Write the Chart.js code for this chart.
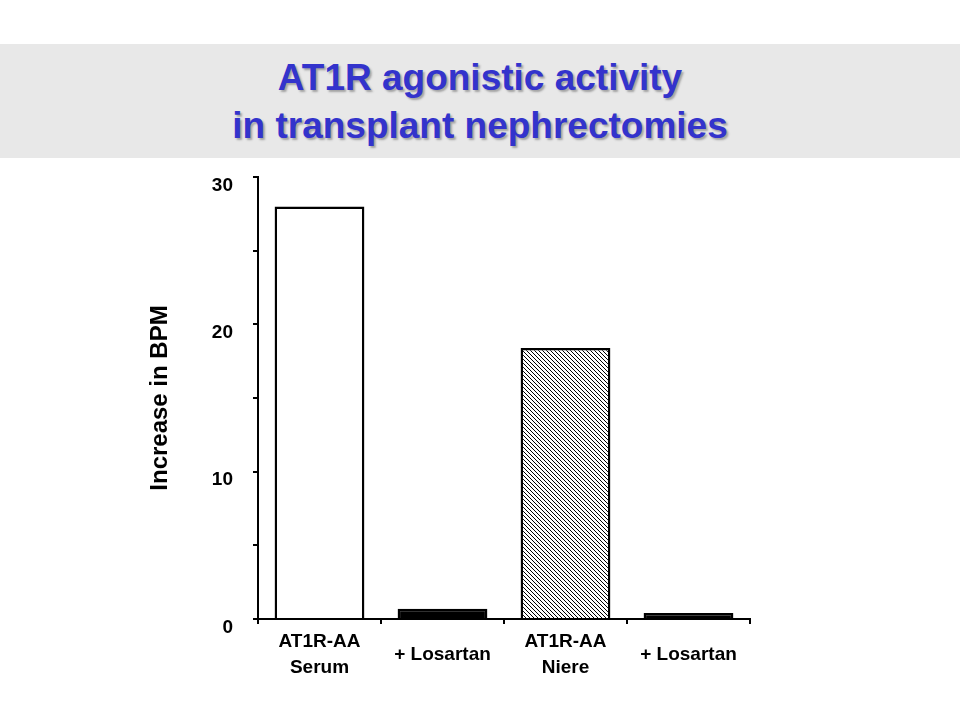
<!DOCTYPE html>
<html>
<head>
<meta charset="utf-8">
<title>AT1R agonistic activity</title>
<script src="https://cdn.jsdelivr.net/npm/chart.js@4.4.1/dist/chart.umd.min.js"></script>
<style>
    html, body {
        margin: 0;
        padding: 0;
        background: #ffffff;
        width: 960px;
        height: 720px;
        overflow: hidden;
    }
    #banner {
        position: absolute;
        left: 0;
        top: 44px;
        width: 960px;
        height: 114px;
        box-sizing: border-box;
        padding-top: 10px;
        background: #e8e8e8;
        text-align: center;
        font-family: "Liberation Sans", Arial, sans-serif;
        font-weight: bold;
        font-size: 37px;
        line-height: 48px;
        color: #3333cc;
        text-shadow: 2px 2px 2px rgba(80, 80, 80, 0.45);
    }
    #chart {
        position: absolute;
        left: 0;
        top: 0;
    }
</style>
</head>
<body>
<canvas id="chart" width="960" height="720"></canvas>
<div id="banner">AT1R agonistic activity<br>in transplant nephrectomies</div>
<script>
// data
const categories = [['AT1R-AA', 'Serum'], '+ Losartan', ['AT1R-AA', 'Niere'], '+ Losartan'];
const bpmIncrease = [28, 0.7, 18.4, 0.4];
const yTicks = [0, 10, 20, 30];
const yTitle = 'Increase in BPM';

const FONT = '"Liberation Sans", Arial, sans-serif';

document.addEventListener("DOMContentLoaded", () => {

    if (typeof Chart === 'undefined') {
        console.error('Chart.js not loaded!');
        return;
    }

    // diagonal hatch for the third bar
    function makeHatch() {
        const s = 4;
        const c = document.createElement('canvas');
        c.width = s;
        c.height = s;
        const g = c.getContext('2d');
        g.fillStyle = '#ffffff';
        g.fillRect(0, 0, s, s);
        g.strokeStyle = '#000000';
        g.lineWidth = 1;
        g.beginPath();
        g.moveTo(-1, -1); g.lineTo(s + 1, s + 1);
        g.moveTo(s - 1, -1); g.lineTo(s + 1, 1);
        g.moveTo(-1, s - 1); g.lineTo(1, s + 1);
        g.stroke();
        return g.createPattern(c, 'repeat');
    }

    const ctx = document.getElementById('chart').getContext('2d');

    new Chart(ctx, {
        type: 'bar',
        data: {
            labels: categories,
            datasets: [{
                data: bpmIncrease,
                backgroundColor: ['#ffffff', '#000000', makeHatch(), '#000000'],
                borderColor: '#000000',
                borderWidth: 2.5,
                barPercentage: 0.73,
                categoryPercentage: 1.0
            }]
        },
        options: {
            responsive: false,
            animation: false,
            layout: {
                padding: { top: 177, left: 140, right: 210, bottom: 21 }
            },
            scales: {
                x: {
                    grid: {
                        drawOnChartArea: false,
                        drawTicks: true,
                        tickLength: 5,
                        lineWidth: 2,
                        color: '#000000'
                    },
                    border: { color: '#000000', width: 2 },
                    ticks: {
                        color: '#000000',
                        padding: 18,
                        maxRotation: 0,
                        autoSkip: false,
                        crossAlign: 'center',
                        font: { family: FONT, size: 19, weight: 'bold', lineHeight: '26px' }
                    },
                    afterFit: (scale) => { scale.height = 80; }
                },
                y: {
                    min: 0,
                    max: 30,
                    grid: {
                        drawOnChartArea: false,
                        drawTicks: true,
                        tickLength: 5,
                        lineWidth: 2,
                        color: '#000000'
                    },
                    border: { color: '#000000', width: 2 },
                    ticks: {
                        stepSize: 5,
                        color: '#000000',
                        padding: 20,
                        font: { family: FONT, size: 19, weight: 'bold', lineHeight: '17px' },
                        // labels sit a little below their tick marks in the original
                        callback: (v) => yTicks.includes(v) ? ['', String(v)] : ''
                    },
                    title: {
                        display: true,
                        text: yTitle,
                        color: '#000000',
                        padding: { top: 6, bottom: 0 },
                        font: { family: FONT, size: 24, weight: 'bold' }
                    },
                    afterFit: (scale) => { scale.width = 118; }
                }
            },
            plugins: {
                legend: { display: false },
                tooltip: { enabled: false }
            }
        }
    });
});
</script>
</body>
</html>
